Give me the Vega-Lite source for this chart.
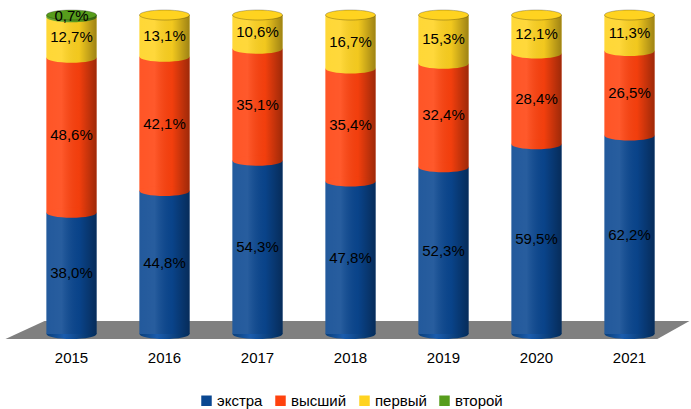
{
  "$schema": "https://vega.github.io/schema/vega-lite/v6.json",
  "width": 651,
  "height": 319,
  "autosize": "none",
  "padding": {"left": 25, "top": 15, "right": 15, "bottom": 75},
  "config": {
    "view": {"stroke": null},
    "font": "Liberation Sans",
    "legend": {"layout": {"bottom": {"anchor": "middle"}}}
  },
  "datasets": {
    "main": [
      {"year": "2015", "s": "экстра", "o": 0, "v": 38.0},
      {"year": "2015", "s": "высший", "o": 1, "v": 48.6},
      {"year": "2015", "s": "первый", "o": 2, "v": 12.7},
      {"year": "2015", "s": "второй", "o": 3, "v": 0.7},
      {"year": "2016", "s": "экстра", "o": 0, "v": 44.8},
      {"year": "2016", "s": "высший", "o": 1, "v": 42.1},
      {"year": "2016", "s": "первый", "o": 2, "v": 13.1},
      {"year": "2017", "s": "экстра", "o": 0, "v": 54.3},
      {"year": "2017", "s": "высший", "o": 1, "v": 35.1},
      {"year": "2017", "s": "первый", "o": 2, "v": 10.6},
      {"year": "2018", "s": "экстра", "o": 0, "v": 47.8},
      {"year": "2018", "s": "высший", "o": 1, "v": 35.4},
      {"year": "2018", "s": "первый", "o": 2, "v": 16.7},
      {"year": "2019", "s": "экстра", "o": 0, "v": 52.3},
      {"year": "2019", "s": "высший", "o": 1, "v": 32.4},
      {"year": "2019", "s": "первый", "o": 2, "v": 15.3},
      {"year": "2020", "s": "экстра", "o": 0, "v": 59.5},
      {"year": "2020", "s": "высший", "o": 1, "v": 28.4},
      {"year": "2020", "s": "первый", "o": 2, "v": 12.1},
      {"year": "2021", "s": "экстра", "o": 0, "v": 62.2},
      {"year": "2021", "s": "высший", "o": 1, "v": 26.5},
      {"year": "2021", "s": "первый", "o": 2, "v": 11.3}
    ],
    "floor": [
      {"fx": -0.21, "fy": -1.57, "fy2": -1.57},
      {"fx": 0.21, "fy": 4.07, "fy2": -1.57},
      {"fx": 6.80, "fy": 4.07, "fy2": -1.57},
      {"fx": 7.145, "fy": 4.07, "fy2": 4.07}
    ]
  },
  "layer": [
    {
      "data": {"name": "floor"},
      "mark": {"type": "area", "color": "#808080", "clip": false},
      "encoding": {
        "x": {"field": "fx", "type": "quantitative", "scale": {"domain": [0, 7], "nice": false, "zero": false}, "axis": null},
        "y": {"field": "fy", "type": "quantitative", "scale": {"domain": [0, 100], "nice": false}, "axis": null},
        "y2": {"field": "fy2"}
      }
    },
    {
      "data": {"name": "main"},
      "encoding": {
        "x": {
          "field": "year", "type": "ordinal",
          "scale": {"paddingInner": 0.46, "paddingOuter": 0.23},
          "axis": {"title": null, "domain": false, "ticks": false, "labelPadding": 16, "labelFontSize": 15, "labelColor": "#000000", "labelAngle": 0}
        }
      },
      "layer": [
        {
          "transform": [{"filter": "datum.o == 0"}],
          "mark": {"type": "point", "filled": true, "opacity": 1, "size": 2500,
            "shape": "M -1 0 A 1 0.2 0 1 0 1 0 A 1 0.2 0 1 0 -1 0 Z",
            "color": {"gradient": "linear", "x1": 0, "x2": 1, "y1": 0, "y2": 0,
              "stops": [{"offset": 0, "color": "#0a3f7a"}, {"offset": 0.35, "color": "#1a5cad"}, {"offset": 1, "color": "#002c5c"}]}},
          "encoding": {"y": {"datum": 0, "type": "quantitative", "scale": {"domain": [0, 100], "nice": false}, "axis": null}}
        },
        {
          "mark": {"type": "bar"},
          "encoding": {
            "y": {"field": "v", "type": "quantitative", "stack": "zero", "scale": {"domain": [0, 100], "nice": false}, "axis": null},
            "color": {
              "field": "s", "type": "nominal",
              "scale": {"domain": ["экстра", "высший", "первый", "второй"], "range": ["#0a4791", "#ff420e", "#ffd320", "#579d1c"]},
              "legend": {"title": null, "orient": "bottom", "direction": "horizontal", "symbolType": "square", "symbolSize": 110, "symbolStrokeWidth": 0, "labelFontSize": 15, "labelColor": "#000000", "offset": 28, "columnPadding": 10, "labelOffset": 3}
            },
            "order": {"field": "o", "type": "quantitative"}
          }
        },
        {
          "transform": [
            {"stack": "v", "groupby": ["year"], "sort": [{"field": "o"}], "as": ["y0", "y1"]},
            {"filter": "datum.o > 0"}
          ],
          "mark": {"type": "point", "filled": true, "opacity": 1, "size": 2500,
            "shape": "M -1 0 A 1 0.2 0 1 0 1 0 A 1 0.2 0 1 0 -1 0 Z"},
          "encoding": {
            "y": {"field": "y0", "type": "quantitative", "scale": {"domain": [0, 100], "nice": false}, "axis": null},
            "color": {"field": "s", "type": "nominal"}
          }
        },
        {
          "transform": [{"aggregate": [{"op": "sum", "field": "v", "as": "tot"}], "groupby": ["year"]}],
          "mark": {"type": "bar",
            "color": {"gradient": "linear", "x1": 0, "x2": 1, "y1": 0, "y2": 0,
              "stops": [{"offset": 0, "color": "rgba(255,255,255,0.10)"}, {"offset": 0.3, "color": "rgba(255,255,255,0.12)"}, {"offset": 0.65, "color": "rgba(0,0,0,0.05)"}, {"offset": 1, "color": "rgba(0,0,0,0.38)"}]}},
          "encoding": {"y": {"field": "tot", "type": "quantitative", "stack": null, "scale": {"domain": [0, 100], "nice": false}, "axis": null}}
        },
        {
          "transform": [
            {"joinaggregate": [{"op": "max", "field": "o", "as": "maxo"}], "groupby": ["year"]},
            {"filter": "datum.o == datum.maxo"}
          ],
          "mark": {"type": "point", "filled": true, "opacity": 1, "size": 2500, "stroke": "rgba(0,0,0,0.25)", "strokeWidth": 1,
            "shape": "M -1 0 A 1 0.2 0 1 0 1 0 A 1 0.2 0 1 0 -1 0 Z"},
          "encoding": {
            "y": {"datum": 100, "type": "quantitative", "scale": {"domain": [0, 100], "nice": false}, "axis": null},
            "color": {"field": "s", "type": "nominal"}
          }
        },
        {
          "transform": [
            {"stack": "v", "groupby": ["year"], "sort": [{"field": "o"}], "as": ["y0", "y1"]},
            {"calculate": "(datum.y0 + datum.y1) / 2", "as": "mid"},
            {"calculate": "replace(format(datum.v, '.1f'), '.', ',') + '%'", "as": "lbl"}
          ],
          "mark": {"type": "text", "fontSize": 15, "color": "#000000", "baseline": "middle"},
          "encoding": {
            "y": {"field": "mid", "type": "quantitative", "scale": {"domain": [0, 100], "nice": false}, "axis": null},
            "text": {"field": "lbl"}
          }
        }
      ]
    }
  ],
  "resolve": {"scale": {"x": "independent"}}
}
